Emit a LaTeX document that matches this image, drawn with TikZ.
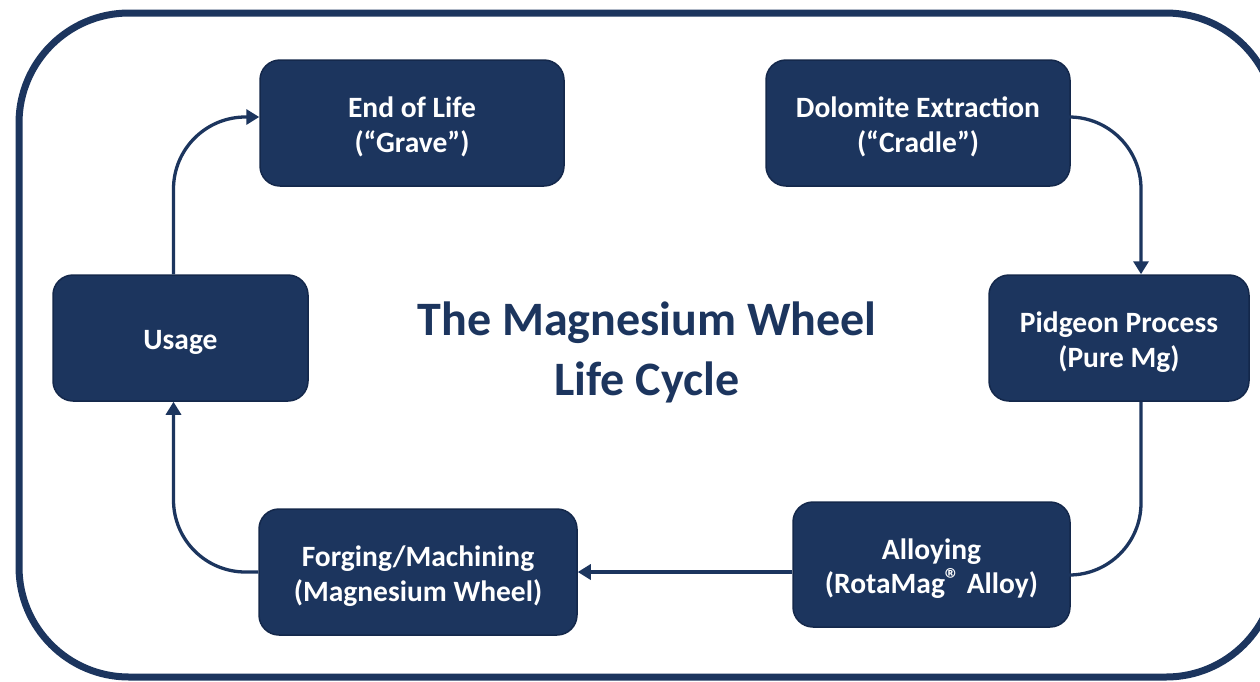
\documentclass[tikz,border=0pt]{standalone}
\usepackage{fontspec}
\setmainfont{Carlito}
\usetikzlibrary{arrows.meta}
\definecolor{navy}{RGB}{28,53,94}
\definecolor{navyedge}{RGB}{20,40,75}
\newcommand{\regmark}{{\fontsize{30}{30}\selectfont\raisebox{0.3ex}{®}}}
\begin{document}
\begin{tikzpicture}[x=1pt,y=-1pt,
 stage/.style={draw=navyedge, line width=1.5pt, fill=navy, rounded corners=20pt, inner sep=0pt},
 stagetext/.style={text=white, font=\fontsize{29.5}{34.5}\selectfont\bfseries, align=center, inner sep=0pt, yshift=-4pt},
 flow/.style={draw=navy, line width=3.3pt, -{Triangle[length=13pt,width=15pt]}, rounded corners=72pt}]
\useasboundingbox (0,0) rectangle (1260,681);
\clip (0,0) rectangle (1260,681);
\fill[white] (0,0) rectangle (1260,681);
\draw[navy, line width=7pt, rounded corners=110pt] (19,13) rectangle (1276,677);

\node[stage, minimum width=304pt, minimum height=126pt, label={[stagetext]center:{End of Life\\(“Grave”)}}] (eol) at (412,123) {};
\node[stage, minimum width=304pt, minimum height=126pt, label={[stagetext]center:{Dolomite Extraction\\(“Cradle”)}}] (dol) at (918,123) {};
\node[stage, minimum width=255pt, minimum height=126pt, label={[stagetext]center:{Usage}}] (use) at (180.5,338) {};
\node[stage, minimum width=260pt, minimum height=126pt, label={[stagetext]center:{Pidgeon Process\\(Pure Mg)}}] (pid) at (1119,338) {};
\node[stage, minimum width=318pt, minimum height=126pt, label={[stagetext]center:{Forging/Machining\\(Magnesium Wheel)}}] (forge) at (418,572) {};
\node[stage, minimum width=277pt, minimum height=125pt, label={[stagetext]center:{Alloying\\(RotaMag\regmark{} Alloy)}}] (alloy) at (931.5,564.5) {};

\node[text=navy, font=\fontsize{48}{60}\selectfont\bfseries, align=center] (title) at (647,352) {The Magnesium Wheel\\Life Cycle};

\draw[flow] ([yshift=6pt]dol.east) -| ([xshift=22pt]pid.north);
\draw[flow] ([xshift=22pt]pid.south) |- ([yshift=-10.5pt]alloy.east);
\draw[flow] (alloy.west |- forge.east) -- (forge.east);
\draw[flow] (forge.west) -| ([xshift=-7pt]use.south);
\draw[flow] ([xshift=-7pt]use.north) |- ([yshift=6pt]eol.west);
\end{tikzpicture}
\end{document}
